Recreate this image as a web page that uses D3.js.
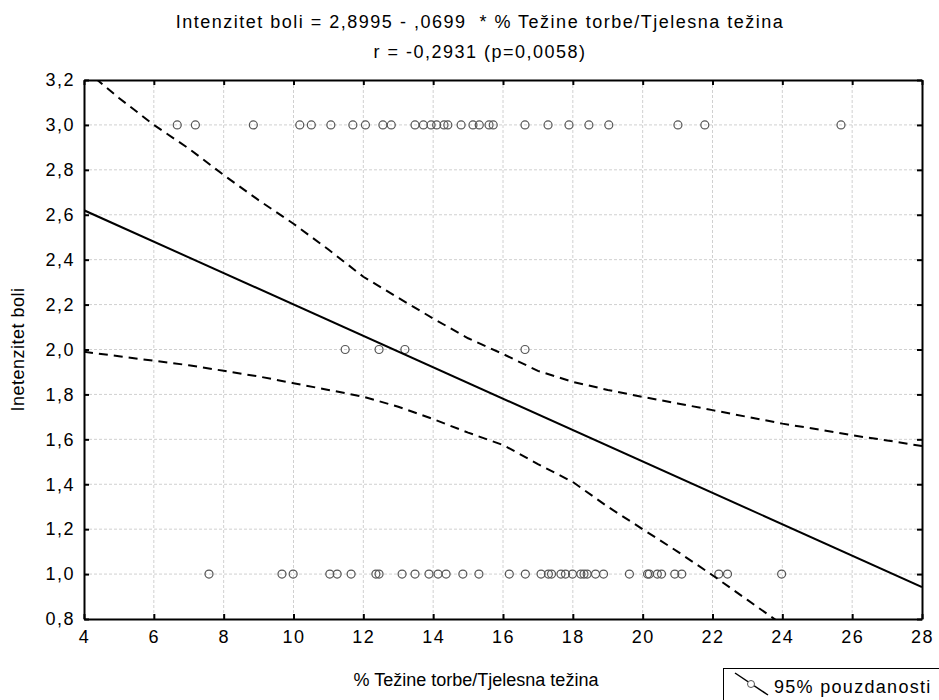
<!DOCTYPE html>
<html>
<head>
<meta charset="utf-8">
<script src="https://cdn.jsdelivr.net/npm/d3@7"></script>
<style>
	body { margin: 0; background: #fff; }
	text { font-family: "Liberation Sans", Arial, sans-serif; fill: #000; letter-spacing: 1.5px; }
</style>
</head>
<body>
<svg id="chart"></svg>
<script>

// ---------- Data ---------- //

// % tezine torbe for each pain level
var pctPain3 = [6.67, 7.19, 8.85, 10.18, 10.51, 11.07, 11.70, 12.06, 12.56, 12.80, 13.48, 13.72,
	13.94, 14.10, 14.31, 14.42, 14.80, 15.14, 15.32, 15.60, 15.72, 16.63, 17.29, 17.89,
	18.46, 19.03, 21.01, 21.78, 25.68];
var pctPain2 = [11.48, 12.45, 13.19, 16.63];
var pctPain1 = [7.58, 9.67, 9.99, 11.04, 11.25, 11.65, 12.36, 12.45, 13.11, 13.48, 13.88, 14.14,
	14.37, 14.85, 15.31, 16.18, 16.64, 17.09, 17.30, 17.39, 17.66, 17.79, 17.99, 18.23,
	18.32, 18.41, 18.65, 18.88, 19.62, 20.14, 20.19, 20.42, 20.54, 20.92, 21.12, 22.18,
	22.43, 23.98];

// regression line ends (2,8995 - ,0699 * x)
var fitX = [4, 28];
var fitY = [2.6199, 0.9423];

// 95% confidence band, read at each x
var bandX = [4, 5, 6, 7, 8, 9, 10, 11, 12, 13, 14, 15, 16, 17, 18, 19, 20, 21, 22, 23, 24, 25, 26, 27, 28];
var bandUpper = [3.25, 3.12, 3.0, 2.895, 2.777, 2.665, 2.56, 2.445, 2.324, 2.23, 2.138, 2.05, 1.98,
	1.905, 1.856, 1.82, 1.789, 1.76, 1.73, 1.70, 1.67, 1.645, 1.618, 1.595, 1.57];
var bandLower = [1.99, 1.97, 1.95, 1.93, 1.905, 1.88, 1.85, 1.82, 1.79, 1.745, 1.69, 1.63, 1.575,
	1.49, 1.41, 1.30, 1.20, 1.10, 0.995, 0.885, 0.775];

var xTicks = [4, 6, 8, 10, 12, 14, 16, 18, 20, 22, 24, 26, 28];
var yTicks = [0.8, 1.0, 1.2, 1.4, 1.6, 1.8, 2.0, 2.2, 2.4, 2.6, 2.8, 3.0, 3.2];

var titleLines = ["Intenzitet boli = 2,8995 - ,0699  * % Težine torbe/Tjelesna težina",
	"r = -0,2931 (p=0,0058)"];

// ---------- Canvas ---------- //

var width = 939;
var height = 700;
var plot = {left: 84, right: 922, top: 80, bottom: 619};

var svg = d3.select("#chart")
		.attr("width", width)
		.attr("height", height);

var x = d3.scaleLinear().domain([4, 28]).range([plot.left, plot.right]);
var y = d3.scaleLinear().domain([0.8, 3.2]).range([plot.bottom, plot.top]);

var comma = d3.formatLocale({decimal: ",", thousands: ".", grouping: [3], currency: ["", ""]}).format(".1f");

svg.append("clipPath")
		.attr("id", "plotClip")
	.append("rect")
		.attr("x", plot.left)
		.attr("y", plot.top)
		.attr("width", plot.right - plot.left)
		.attr("height", plot.bottom - plot.top);

// --- Grid --- //

var grid = svg.append("g")
		.attr("stroke", "#d0d0d0")
		.attr("stroke-width", 1)
		.attr("stroke-dasharray", "3,2");

grid.selectAll(".vgrid")
		.data(xTicks.slice(1, -1))
		.enter().append("line")
		.attr("x1", function(d) { return x(d); })
		.attr("x2", function(d) { return x(d); })
		.attr("y1", plot.top)
		.attr("y2", plot.bottom);

grid.selectAll(".hgrid")
		.data(yTicks.slice(1, -1))
		.enter().append("line")
		.attr("x1", plot.left)
		.attr("x2", plot.right)
		.attr("y1", function(d) { return y(d); })
		.attr("y2", function(d) { return y(d); });

// --- Points --- //

var pts = svg.append("g")
		.attr("fill", "none")
		.attr("stroke", "#555")
		.attr("stroke-width", 1.2);

[[pctPain3, 3], [pctPain2, 2], [pctPain1, 1]].forEach(function(row) {
	pts.selectAll(null)
			.data(row[0])
			.enter().append("circle")
			.attr("cx", function(d) { return x(d); })
			.attr("cy", y(row[1]))
			.attr("r", 4);
});

// --- Fit line + band --- //

var lines = svg.append("g")
		.attr("clip-path", "url(#plotClip)")
		.attr("fill", "none")
		.attr("stroke", "#000")
		.attr("stroke-width", 2);

lines.append("path")
		.attr("d", d3.line()(fitX.map(function(d, i) { return [x(d), y(fitY[i])]; })));

var band = d3.line()
		.x(function(d) { return x(d[0]); })
		.y(function(d) { return y(d[1]); });

lines.append("path")
		.attr("stroke-dasharray", "9,6")
		.attr("d", band(bandUpper.map(function(d, i) { return [bandX[i], d]; })));

lines.append("path")
		.attr("stroke-dasharray", "9,6")
		.attr("d", band(bandLower.map(function(d, i) { return [bandX[i], d]; })));

// --- Axes (frame with inward ticks) --- //

svg.append("g")
		.attr("transform", "translate(0," + plot.bottom + ")")
		.call(d3.axisBottom(x).tickValues(xTicks).tickSizeInner(-5).tickSizeOuter(0).tickPadding(11).tickFormat(d3.format("d")));

svg.append("g")
		.attr("transform", "translate(0," + plot.top + ")")
		.call(d3.axisTop(x).tickValues(xTicks).tickSizeInner(-5).tickSizeOuter(0).tickFormat(""));

svg.append("g")
		.attr("transform", "translate(" + plot.left + ",0)")
		.call(d3.axisLeft(y).tickValues(yTicks).tickSizeInner(-5).tickSizeOuter(0).tickPadding(9).tickFormat(comma));

svg.append("g")
		.attr("transform", "translate(" + plot.right + ",0)")
		.call(d3.axisRight(y).tickValues(yTicks).tickSizeInner(-5).tickSizeOuter(0).tickFormat(""));

svg.selectAll(".domain")
		.attr("stroke", "#000")
		.attr("stroke-width", 2);

svg.selectAll(".tick line")
		.attr("stroke", "#000")
		.attr("stroke-width", 2);

svg.selectAll(".tick text")
		.attr("font-family", "Liberation Sans, Arial, sans-serif")
		.attr("font-size", "18px")
		.attr("fill", "#000");

// --- Titles --- //

svg.selectAll(".title")
		.data(titleLines)
		.enter().append("text")
		.attr("x", 480)
		.attr("y", function(d, i) { return 28 + i * 30; })
		.attr("text-anchor", "middle")
		.attr("font-size", "18px")
		.style("white-space", "pre")
		.text(function(d) { return d; });

svg.append("text")
		.attr("x", 476)
		.attr("y", 686)
		.attr("text-anchor", "middle")
		.attr("font-size", "18px")
		.style("letter-spacing", "0px")
		.text("% Težine torbe/Tjelesna težina");

svg.append("text")
		.attr("transform", "translate(24," + ((plot.top + plot.bottom) / 2) + ") rotate(-90)")
		.attr("text-anchor", "middle")
		.attr("font-size", "18px")
		.style("letter-spacing", "0.5px")
		.text("Inetenzitet boli");

// --- Legend --- //

var legend = svg.append("g");

legend.append("rect")
		.attr("x", 723.5)
		.attr("y", 668.5)
		.attr("width", 230)
		.attr("height", 50)
		.attr("fill", "#fff")
		.attr("stroke", "#000");

legend.append("line")
		.attr("x1", 735)
		.attr("y1", 673)
		.attr("x2", 768)
		.attr("y2", 695)
		.attr("stroke", "#000")
		.attr("stroke-width", 1.5);

legend.append("circle")
		.attr("cx", 751)
		.attr("cy", 684)
		.attr("r", 3.5)
		.attr("fill", "#fff")
		.attr("stroke", "#555");

legend.append("text")
		.attr("x", 774)
		.attr("y", 693)
		.attr("font-size", "18px")
		.style("letter-spacing", "1.3px")
		.text("95% pouzdanosti");

</script>
</body>
</html>
